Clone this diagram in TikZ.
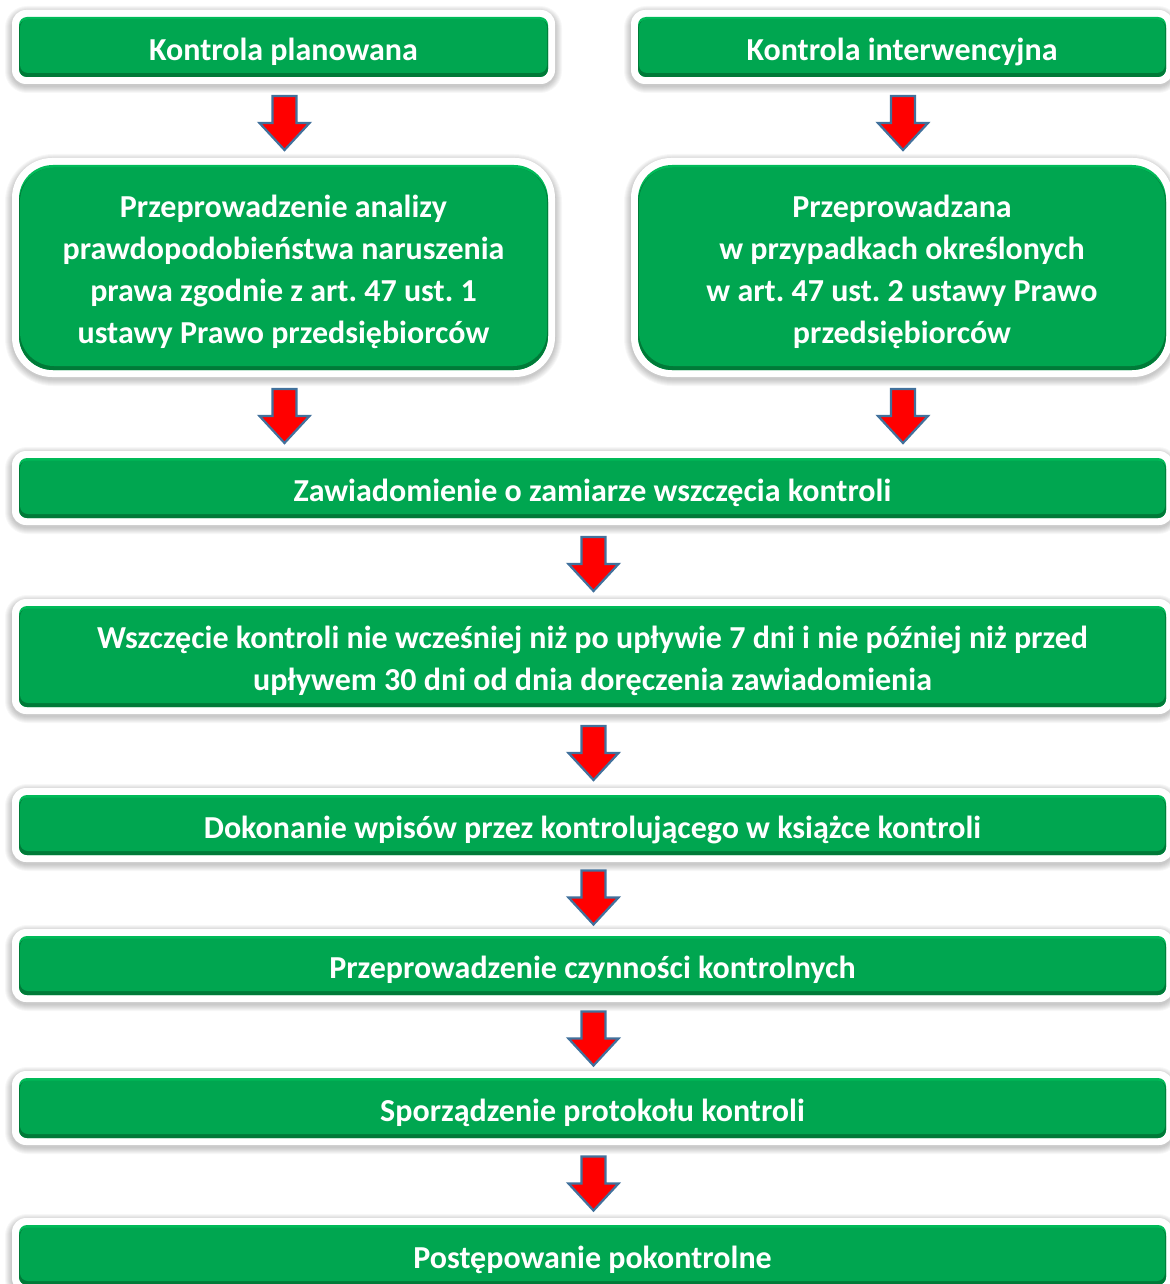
\documentclass[tikz,border=0pt]{standalone}
\usepackage{fontspec}
\setmainfont{Carlito}
\usetikzlibrary{calc}
\definecolor{gmain}{HTML}{00A650}
\definecolor{glight}{HTML}{00BA58}
\definecolor{gdark}{HTML}{007A38}
\definecolor{arrred}{HTML}{FF0000}
\definecolor{arredge}{HTML}{41719C}
\tikzset{
  boxtext/.style={text=white, font=\fontsize{32}{42}\selectfont\bfseries, align=center, inner sep=0pt},
  blockarrow/.style={fill=arrred, draw=arredge, line width=2.2pt, line join=miter},
}
% #1 name, #2 x1, #3 y1, #4 x2, #5 y2, #6 radius, #7 text
\newcommand\gbox[7]{%
  \foreach \s in {1,...,7}{\fill[black, opacity=0.03, rounded corners={#6+7+\s}] (#2-7-\s,#3-7-\s+3) rectangle (#4+7+\s,#5+7+\s+2);}
  \fill[white, rounded corners={#6+6}] (#2-7,#3-7) rectangle (#4+7,#5+7);
  \fill[glight, rounded corners=#6] (#2,#3) rectangle (#4,#5);
  \fill[gdark, rounded corners=#6] (#2,#3+3) rectangle (#4,#5);
  \fill[gmain, rounded corners=#6] (#2+1,#3+2.5) rectangle (#4-1,#5-4);
  \node[boxtext, minimum width={#4-#2}, minimum height={#5-#3}] (#1) at ({(#2+#4)/2},{(#3+#5)/2}) {};
  \node[boxtext] at ([yshift=-4.5pt]#1.center) {#7};
}
\newcommand\flowarrow[2]{%
  \begin{scope}[shift={($#1!0.5!#2$)}, yshift=-2pt, xshift=1pt]
    \draw[blockarrow] (-12,-27) -- (12,-27) -- (12,0) -- (25,0) -- (0,27) -- (-25,0) -- (-12,0) -- cycle;
  \end{scope}
}
\begin{document}
\begin{tikzpicture}[x=1pt,y=-1pt]
\fill[white] (0,0) rectangle (1169,1284);
\useasboundingbox (0,0) rectangle (1169,1284);
\gbox{kp}{19}{17}{548}{77}{8}{Kontrola planowana}
\gbox{ki}{638}{17}{1166}{77}{8}{Kontrola interwencyjna}
\gbox{ap}{19}{165}{548}{370}{34}{Przeprowadzenie analizy\\prawdopodobieństwa naruszenia\\prawa zgodnie z art.~47 ust.~1\\ustawy Prawo przedsiębiorców}
\gbox{pi}{638}{165}{1166}{370}{34}{Przeprowadzana\\w przypadkach określonych\\w art.~47 ust.~2 ustawy Prawo\\przedsiębiorców}
\gbox{za}{19}{458}{1166}{518}{8}{Zawiadomienie o zamiarze wszczęcia kontroli}
\gbox{ws}{19}{606}{1166}{707}{8}{Wszczęcie kontroli nie wcześniej niż po upływie 7 dni i nie później niż przed\\upływem 30 dni od dnia doręczenia zawiadomienia}
\gbox{dw}{19}{795}{1166}{855}{8}{Dokonanie wpisów przez kontrolującego w książce kontroli}
\gbox{cz}{19}{936}{1166}{995}{8}{Przeprowadzenie czynności kontrolnych}
\gbox{sp}{19}{1078}{1166}{1138}{8}{Sporządzenie protokołu kontroli}
\gbox{pp}{19}{1225}{1166}{1285}{8}{Postępowanie pokontrolne}
\flowarrow{(kp.south)}{(ap.north)}
\flowarrow{(ki.south)}{(pi.north)}
\flowarrow{(ap.south)}{(ap.south |- za.north)}
\flowarrow{(pi.south)}{(pi.south |- za.north)}
\flowarrow{(za.south)}{(ws.north)}
\flowarrow{(ws.south)}{(dw.north)}
\flowarrow{(dw.south)}{(cz.north)}
\flowarrow{(cz.south)}{(sp.north)}
\flowarrow{(sp.south)}{(pp.north)}
\end{tikzpicture}
\end{document}
